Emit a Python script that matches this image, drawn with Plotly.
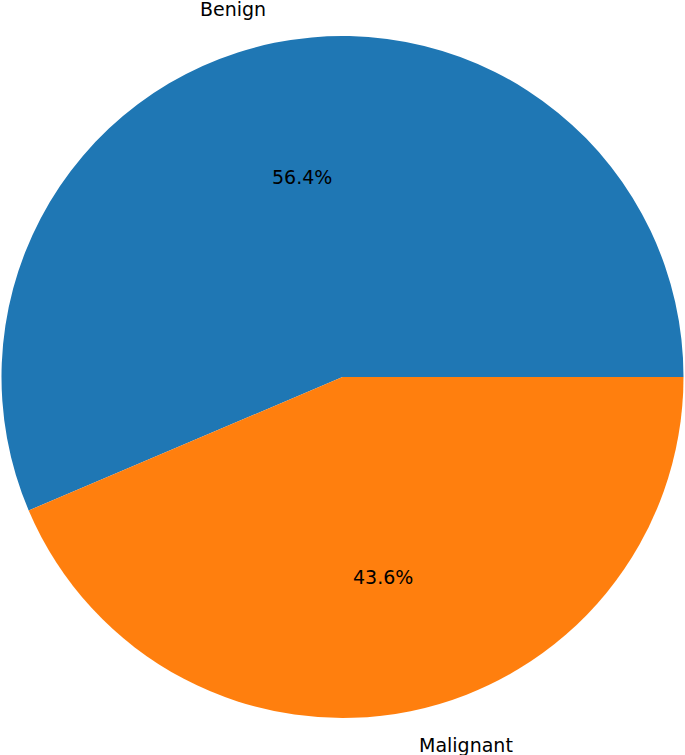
import math
import plotly.graph_objects as go

labels = ['Benign', 'Malignant']
values = [56.4, 43.6]
colors = ['#1f77b4', '#ff7f0e']

W, H = 685, 755
# pie area in pixels (centre and radius)
cx, cy, r = 342.5, 377, 341

total = sum(values)
# first slice starts at 3 o'clock and runs counterclockwise (matplotlib default)
rotation = 90 - 360 * values[0] / total

fig = go.Figure(data=go.Pie(
    labels=labels,
    values=values,
    marker=dict(colors=colors, line=dict(width=0)),
    sort=False,
    direction='counterclockwise',
    rotation=rotation,
    textinfo='none',
    hoverinfo='label+percent',
    showlegend=False,
    domain=dict(x=[(cx - r) / W, (cx + r) / W], y=[(H - cy - r) / H, (H - cy + r) / H]),
))

# matplotlib-style labels: names at 1.1r, percentages at 0.6r
start = 0.0
annotations = []
for lab, v in zip(labels, values):
    mid = math.radians((start + v / 2) / total * 360)
    start += v
    c, s = math.cos(mid), math.sin(mid)
    annotations.append(dict(
        x=(cx + 1.1 * r * c) / W, y=(H - cy + 1.1 * r * s) / H,
        xref='paper', yref='paper', text=lab, showarrow=False,
        xanchor='left' if c > 0 else 'right', yanchor='middle',
        font=dict(family='DejaVu Sans', size=19, color='#000000'),
    ))
    annotations.append(dict(
        x=(cx + 0.6 * r * c) / W, y=(H - cy + 0.6 * r * s) / H,
        xref='paper', yref='paper', text='%.1f%%' % (v / total * 100), showarrow=False,
        xanchor='center', yanchor='middle',
        font=dict(family='DejaVu Sans', size=19, color='#000000'),
    ))

fig.update_layout(
    width=W,
    height=H,
    template=None,
    paper_bgcolor='white',
    plot_bgcolor='white',
    margin=dict(l=0, r=0, t=0, b=0),
    annotations=annotations,
)

# drop the default body margin so the figure fills the window exactly
fig.write_html('out.html', config={'displayModeBar': False},
               post_script="document.body.style.margin='0px';document.body.style.overflow='hidden';")
